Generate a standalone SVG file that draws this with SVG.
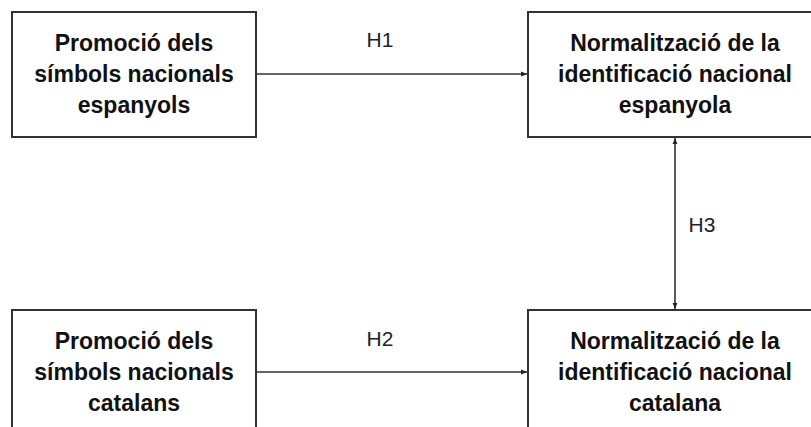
<svg xmlns="http://www.w3.org/2000/svg" width="811" height="427" viewBox="0 0 811 427">
<defs>
<style>
.box{fill:#fff;stroke:#333;stroke-width:2}
.t{font-family:"Liberation Sans",Arial,sans-serif;font-size:23px;font-weight:bold;fill:#111;text-anchor:middle}
.lbl{font-family:"Liberation Sans",Arial,sans-serif;font-size:21px;fill:#222;text-anchor:middle}
.edge{stroke:#333;stroke-width:1.6;fill:none}
</style>
<marker id="ah" viewBox="0 0 10 10" refX="10" refY="5" markerWidth="6" markerHeight="6" orient="auto-start-reverse" markerUnits="userSpaceOnUse">
<path d="M0,1 L10,5 L0,9 z" fill="#222"/>
</marker>
</defs>
<rect width="811" height="427" fill="#fff"/>
<g id="n1">
<rect class="box" x="12" y="12" width="244" height="125"/>
<text class="t" x="134" y="51">Promoció dels</text>
<text class="t" x="134" y="82">símbols nacionals</text>
<text class="t" x="134" y="113">espanyols</text>
</g>
<g id="n2">
<rect class="box" x="528" y="12" width="294" height="125"/>
<text class="t" x="675" y="51">Normalització de la</text>
<text class="t" x="675" y="82">identificació nacional</text>
<text class="t" x="675" y="113">espanyola</text>
</g>
<g id="n3">
<rect class="box" x="12" y="310" width="244" height="125"/>
<text class="t" x="134" y="349">Promoció dels</text>
<text class="t" x="134" y="380">símbols nacionals</text>
<text class="t" x="134" y="411">catalans</text>
</g>
<g id="n4">
<rect class="box" x="528" y="310" width="294" height="125"/>
<text class="t" x="675" y="349">Normalització de la</text>
<text class="t" x="675" y="380">identificació nacional</text>
<text class="t" x="675" y="411">catalana</text>
</g>
<g id="edges">
<line class="edge" x1="256" y1="74" x2="527" y2="74" marker-end="url(#ah)"/>
<text class="lbl" x="380" y="47">H1</text>
<line class="edge" x1="256" y1="372" x2="527" y2="372" marker-end="url(#ah)"/>
<text class="lbl" x="380" y="346">H2</text>
<line class="edge" x1="675" y1="138" x2="675" y2="309" marker-start="url(#ah)" marker-end="url(#ah)"/>
<text class="lbl" x="702" y="232">H3</text>
</g>
</svg>
